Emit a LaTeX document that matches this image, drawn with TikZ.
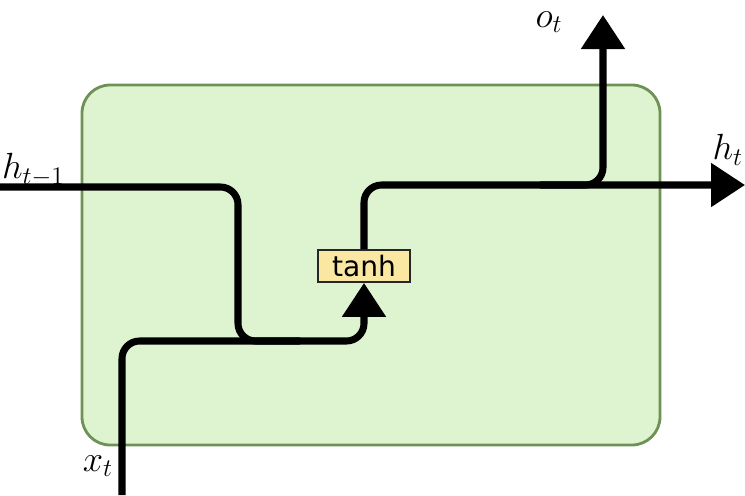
\documentclass[tikz,border=0pt]{standalone}
\usepackage{fontspec}
\newfontfamily\boxfont{DejaVu Sans}
\usetikzlibrary{arrows.meta,positioning}
\definecolor{cellgreen}{HTML}{DEF4D0}
\definecolor{celledge}{HTML}{6E9155}
\definecolor{gateyellow}{HTML}{FAE8A2}
\begin{document}
\begin{tikzpicture}[x=0.02cm,y=-0.02cm,every node/.style={font=\fontsize{21}{25}\selectfont}]
\useasboundingbox (0,0) rectangle (745,495);
\clip (0,0) rectangle (745,495);
\tikzset{wire/.style={line width=4pt,rounded corners=10pt},
  tip/.style={-{Triangle[length=0.68cm,width=0.85cm]}}}
% cell
\draw[fill=cellgreen,draw=celledge,line width=1.6pt,rounded corners=16pt] (82,85) rectangle (660,445);
% gate
\node[draw=black!85,fill=gateyellow,line width=1.1pt,minimum width=1.84cm,minimum height=0.64cm,inner sep=0pt,font=\boxfont\fontsize{16}{19}\selectfont] (tanh) at (364,266) {tanh};
% end points
\coordinate (hin) at (0,187);
\coordinate (xin) at (122,495);
\coordinate (hout) at (745,185);
\coordinate (oout) at (603,15);
\coordinate (join) at (603,185);
\coordinate (bend) at (364,185);
% wires
\draw[wire] (hin) -- (238,187) -- (238,341) -- (300,341);
\draw[wire,tip] (xin) -- (122,341) -- (364,341) -- (tanh.south);
\draw[wire,tip] (tanh.north) -- (bend) -- (hout);
\draw[wire,tip] (540,185) -- (join) -- (oout);
% labels
\node[anchor=west,inner sep=1pt] (lhin) at (0,170) {$h_{t-1}$};
\node[anchor=east,inner sep=1pt] (lhout) at (745,150) {$h_t$};
\node (lo) at (549,22) {$o_t$};
\node (lx) at (98,466) {$x_t$};
\end{tikzpicture}
\end{document}
